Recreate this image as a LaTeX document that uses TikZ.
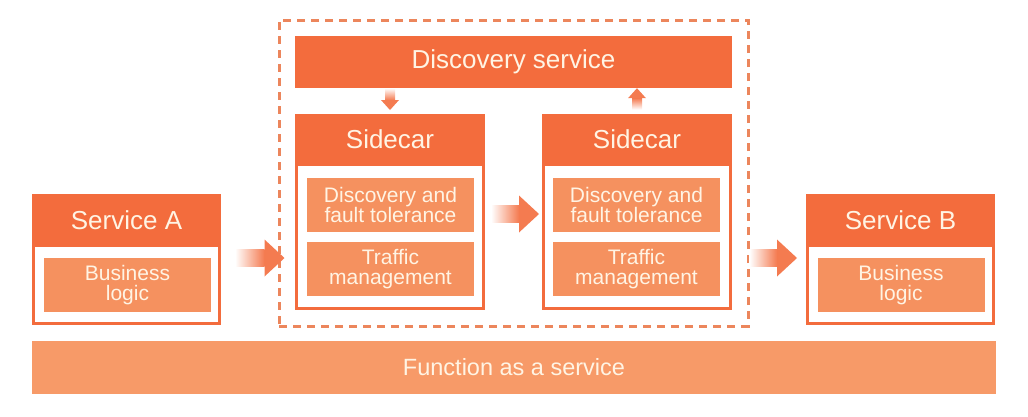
\documentclass[tikz,border=0pt]{standalone}
\usepackage{fontspec}
\setmainfont{Liberation Sans}
\usetikzlibrary{calc}

\definecolor{hdrorange}{HTML}{F36C3D}
\definecolor{innorange}{HTML}{F5915F}
\definecolor{barorange}{HTML}{F79A68}
\definecolor{dashorange}{HTML}{EC865C}
\definecolor{cream}{HTML}{FFF4E4}

\tikzset{
  frame/.style={draw=hdrorange, line width=3pt, fill=white, inner sep=0pt},
  header/.style={fill=hdrorange, text=cream, anchor=north, inner sep=0pt,
    font=\fontsize{26}{28}\selectfont},
  inbox/.style={fill=innorange, text=cream, align=center, inner sep=0pt,
    minimum width=167pt, minimum height=54pt, font=\fontsize{21}{20.5}\selectfont},
}

% fat arrows with a fading shaft
\newcommand{\arrowright}[2]{%
  \shade[left color=white, right color=hdrorange!90] ($(#1)+(0,-8.5)$) rectangle ($(#2)+(-20,8.5)$);
  \fill[hdrorange!90] ($(#2)+(-20,-18.5)$) -- (#2) -- ($(#2)+(-20,18.5)$) -- cycle;}
\newcommand{\arrowdown}[2]{%
  \shade[top color=white, bottom color=hdrorange!90] ($(#1)+(-5,0)$) rectangle ($(#2)+(5,-10)$);
  \fill[hdrorange!90] ($(#2)+(-9,-10)$) -- (#2) -- ($(#2)+(9,-10)$) -- cycle;}
\newcommand{\arrowup}[2]{%
  \shade[bottom color=white, top color=hdrorange!90] ($(#1)+(-5,0)$) rectangle ($(#2)+(5,10)$);
  \fill[hdrorange!90] ($(#2)+(-9,10)$) -- (#2) -- ($(#2)+(9,10)$) -- cycle;}

\begin{document}
\begin{tikzpicture}[x=1pt, y=-1pt]
\useasboundingbox (0,0) rectangle (1028,416);

% Service A
\node[frame, minimum width=186pt, minimum height=127pt] (sa) at (126.5,260) {};
\node[header, minimum width=189pt, minimum height=53pt] (sah) at ([yshift=1.5pt]sa.north) {Service A};
\node[inbox] (sal) at (127.5,285) {Business\\logic};

% discovery
\node[fill=hdrorange, text=cream, inner sep=0pt, minimum width=437pt, minimum height=52pt,
  font=\fontsize{26}{28}\selectfont] (disc) at (513.5,62) {Discovery service};

% sidecars
\node[frame, minimum width=187pt, minimum height=192pt] (sc1) at (390,212.5) {};
\node[header, minimum width=190pt, minimum height=52pt] (sc1h) at ([yshift=1.5pt]sc1.north) {Sidecar};
\node[inbox] (sc1d) at (390.5,205) {Discovery and\\fault tolerance};
\node[inbox] (sc1t) at (390.5,269) {Traffic\\management};

\node[frame, minimum width=187pt, minimum height=192pt] (sc2) at (637,212.5) {};
\node[header, minimum width=190pt, minimum height=52pt] (sc2h) at ([yshift=1.5pt]sc2.north) {Sidecar};
\node[inbox] (sc2d) at (636.5,205) {Discovery and\\fault tolerance};
\node[inbox] (sc2t) at (636.5,269) {Traffic\\management};

% Service B
\node[frame, minimum width=186pt, minimum height=127pt] (sb) at (900.5,260) {};
\node[header, minimum width=189pt, minimum height=53pt] (sbh) at ([yshift=1.5pt]sb.north) {Service B};
\node[inbox] (sbl) at (901,285) {Business\\logic};

% bottom bar
\node[fill=barorange, text=cream, inner sep=0pt, minimum width=964pt, minimum height=53pt,
  font=\fontsize{23.5}{26}\selectfont] (faas) at (514,367.5) {Function as a service};

% mesh boundary
\node[draw=dashorange, line width=3pt, dash pattern=on 8pt off 6pt, inner sep=0pt,
  minimum width=469pt, minimum height=306pt] (mesh) at (513.5,173) {};

% arrows
\coordinate (a1) at ([xshift=14pt, yshift=2pt]sa.east);
\coordinate (a2) at ([xshift=7pt]mesh.west |- a1);
\arrowright{a1}{a2}
\coordinate (b1) at ([xshift=6pt, yshift=-1.5pt]sc1.east);
\coordinate (b2) at ([xshift=-3pt]sc2.west |- b1);
\arrowright{b1}{b2}
\coordinate (c1) at ([yshift=2pt]mesh.east |- sb.east);
\coordinate (c2) at ([xshift=-9pt]sb.west |- c1);
\arrowright{c1}{c2}
\coordinate (d1) at (disc.south -| sc1.north);
\coordinate (d2) at ([yshift=3.5pt]sc1h.north);
\arrowdown{d1}{d2}
\coordinate (u1) at ([yshift=4pt]sc2h.north);
\coordinate (u2) at (disc.south -| u1);
\arrowup{u1}{u2}
\end{tikzpicture}
\end{document}
